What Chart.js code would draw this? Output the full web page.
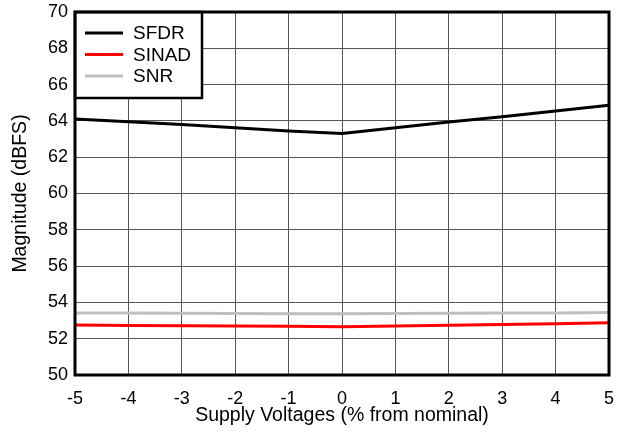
<!DOCTYPE html>
<html>
<head>
<meta charset="utf-8">
<script src="https://cdn.jsdelivr.net/npm/chart.js@4/dist/chart.umd.min.js"></script>
<style>
  html, body { margin: 0; padding: 0; background: #fff; }
  #wrap { width: 621px; height: 433px; }
</style>
</head>
<body>
<div id="wrap"><canvas id="chart"></canvas></div>
<script>
const supplyPct = [-5, -4, -3, -2, -1, 0, 1, 2, 3, 4, 5]
const sfdr = [64.1, 63.95, 63.8, 63.62, 63.45, 63.3, 63.62, 63.94, 64.23, 64.55, 64.86]
const sinad = [52.75, 52.73, 52.71, 52.7, 52.68, 52.66, 52.7, 52.74, 52.78, 52.83, 52.88]
const snr = [53.42, 53.41, 53.4, 53.39, 53.38, 53.37, 53.39, 53.4, 53.41, 53.42, 53.44]

const family = 'Liberation Sans, Arial, sans-serif'
const tickFont = { family, size: 18 }
const titleFont = { family, size: 19.5 }

const toPoints = (ys) => supplyPct.map((x, i) => ({ x, y: ys[i] }))

// legend box drawn inside the plot area, top-left corner
const boxLegend = {
  id: 'boxLegend',
  afterDatasetsDraw(chart) {
    const { ctx, chartArea } = chart
    const x0 = chartArea.left
    const y0 = chartArea.top
    const w = 127
    const h = 86
    ctx.save()
    ctx.fillStyle = '#fff'
    ctx.fillRect(x0, y0, w, h)
    ctx.strokeStyle = '#000'
    ctx.lineWidth = 2.5
    ctx.strokeRect(x0, y0, w, h)
    ctx.font = `19px ${family}`
    ctx.textBaseline = 'middle'
    chart.data.datasets.forEach((ds, i) => {
      const y = y0 + 21 + i * 21.5
      ctx.strokeStyle = ds.borderColor
      ctx.lineWidth = 3
      ctx.beginPath()
      ctx.moveTo(x0 + 10, y)
      ctx.lineTo(x0 + 48, y)
      ctx.stroke()
      ctx.fillStyle = '#000'
      ctx.fillText(ds.label, x0 + 58, y + 1)
    })
    ctx.restore()
  },
}

// thick frame round the plot area
const frame = {
  id: 'frame',
  afterDraw(chart) {
    const { ctx, chartArea } = chart
    ctx.save()
    ctx.strokeStyle = '#000'
    ctx.lineWidth = 3
    ctx.strokeRect(chartArea.left, chartArea.top, chartArea.right - chartArea.left, chartArea.bottom - chartArea.top)
    ctx.restore()
  },
}

new Chart(document.getElementById('chart'), {
  type: 'line',
  data: {
    datasets: [
      { label: 'SFDR', data: toPoints(sfdr), borderColor: '#000000' },
      { label: 'SINAD', data: toPoints(sinad), borderColor: '#ff0000' },
      { label: 'SNR', data: toPoints(snr), borderColor: '#bfbfbf' },
    ],
  },
  options: {
    responsive: true,
    maintainAspectRatio: false,
    animation: false,
    layout: { padding: 0 },
    elements: {
      line: { borderWidth: 3, tension: 0 },
      point: { radius: 0 },
    },
    plugins: {
      legend: { display: false },
      tooltip: { enabled: false },
    },
    scales: {
      x: {
        type: 'linear',
        min: -5,
        max: 5,
        ticks: { stepSize: 1, color: '#000', font: tickFont, padding: 13 },
        grid: { color: '#555', lineWidth: 1, drawTicks: false },
        border: { display: false },
        title: { display: true, text: 'Supply Voltages (% from nominal)', color: '#000', font: titleFont, padding: { top: 0, bottom: 6 } },
        afterFit(s) {
          s.height = 58
          s.paddingLeft = 0
          s.paddingRight = 12
        },
      },
      y: {
        min: 50,
        max: 70,
        ticks: { stepSize: 2, color: '#000', font: tickFont, padding: 7 },
        grid: { color: '#555', lineWidth: 1, drawTicks: false },
        border: { display: false },
        title: { display: true, text: 'Magnitude (dBFS)', color: '#000', font: titleFont, padding: { top: 9, bottom: 0 } },
        afterFit(s) {
          s.width = 75
          s.paddingTop = 12
          s.paddingBottom = 0
        },
      },
    },
  },
  plugins: [boxLegend, frame],
})
</script>
</body>
</html>
